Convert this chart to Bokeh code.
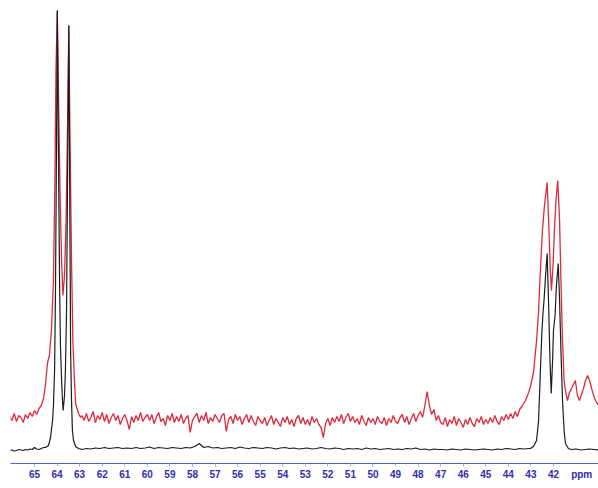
import numpy as np
from bokeh.plotting import figure
from bokeh.models import Range1d, FixedTicker
from bokeh.embed import file_html
from bokeh.resources import INLINE

# ---------------- data (chemical shift in ppm, intensity in a.u.) ----------------
# black spectrum: left baseline (66.1 -> 64.6, step 0.1)
black_left_ppm = [66.1, 66.0, 65.9, 65.8, 65.7, 65.6, 65.5, 65.4, 65.3, 65.2, 65.1, 65.0, 64.9, 64.8, 64.7, 64.6]
black_left_int = [0, 0.5, -0.5, 0, 1, 0.5, 0, 1, 0.5, 1.5, 1, 3, 1.5, 1, 2, 3]

# black doublet near 64 ppm
black_pk1_ppm = [64.51, 64.38, 64.29, 64.20, 64.16, 64.11, 64.07, 64.02, 63.99, 63.94, 63.89, 63.85,
                 63.80, 63.76, 63.73, 63.67, 63.63, 63.58, 63.54, 63.48, 63.43, 63.40, 63.36, 63.32,
                 63.27, 63.18, 63.05, 62.96]
black_pk1_int = [3, 5, 13, 30, 45, 80, 160, 320, 440, 300, 170, 105,
                 70, 50, 40, 55, 80, 140, 260, 425, 220, 100, 50, 20,
                 10, 4, 2, 1.5]

# black baseline 62.9 -> 43.1 (step 0.2)
black_base_int = [1, 2, 1.5, 2.5, 2, 3, 2, 2.5, 3, 2,
                  2.5, 2, 3, 2, 2.5, 3.5, 2, 3, 2.5, 2,
                  3, 2.5, 2, 3, 2.5, 4, 7, 3, 4, 2.5,
                  3, 2, 2.5, 3, 2, 3.5, 2.5, 2, 3, 2.5,
                  2, 3, 2.5, 1.5, 2.5, 3, 2, 2.5, 1.5, 2,
                  2.5, 1.5, 2, 3, 2, 1.5, 2.5, 2, 1, 2,
                  1.5, 2, 1, 2.5, 1.5, 2, 1, 1.5, 2, 1,
                  1.5, 1, 2, 1.5, 2.5, 1, 1.5, 0.5, 1.5, 1,
                  1, 0.5, 1.5, 1, 0.5, 1.5, 1, 0.5, 1, 1.5,
                  1, 0.5, 1.5, 1, 2, 1.5, 1, 2, 1.5, 2]
black_base_ppm = list(np.round(np.arange(62.9, 43.05, -0.2), 2))

# black multiplet near 42 ppm
black_pk2_ppm = [43.02, 42.886, 42.75, 42.66, 42.58, 42.51, 42.457, 42.42, 42.35, 42.28, 42.22,
                 42.155, 42.10, 42.04, 42.00, 41.93, 41.87, 41.79, 41.73, 41.67, 41.60, 41.53,
                 41.47, 41.34]
black_pk2_int = [2, 4, 10, 30, 80, 120, 140, 150, 175, 197, 150,
                 90, 57, 90, 120, 135, 165, 187, 150, 100, 50, 20,
                 7, 2]
black_right_ppm = [41.2, 41.0, 40.8, 40.6, 40.4, 40.2, 40.0]
black_right_int = [1, 1.5, 0.5, 1, 1.5, 1, 0.5]

# red spectrum: left baseline (66.1 -> 64.6)
red_left_ppm = black_left_ppm
red_left_int = [34, 30, 37, 29, 35, 33, 28, 36, 32, 38, 34, 40, 36, 42, 45, 52]

# red doublet near 64 ppm
red_pk1_ppm = [64.52, 64.42, 64.34, 64.25, 64.16, 64.09, 64.05, 63.99, 63.94, 63.87, 63.80,
               63.74, 63.67, 63.60, 63.54, 63.48, 63.43, 63.36, 63.30, 63.23, 63.18, 63.05, 62.96]
red_pk1_int = [65, 88, 95, 120, 170, 280, 380, 440, 360, 260, 190,
               155, 175, 230, 320, 425, 320, 190, 110, 70, 47, 37, 33]

# red baseline 62.9 -> 43.5 (step 0.1)
red_base_int = [35, 30, 37, 29, 33, 39, 28, 35, 31, 38,
                29, 36, 27, 33, 37, 30, 35, 26, 32, 36,
                30, 21, 34, 28, 35, 30, 38, 29, 33, 36,
                30, 36, 27, 33, 38, 29, 32, 25, 35, 30,
                37, 28, 34, 29, 36, 27, 32, 35, 18, 30,
                34, 37, 28, 35, 30, 38, 27, 33, 29, 36,
                32, 28, 35, 37, 19, 31, 34, 27, 36, 30,
                34, 26, 32, 36, 28, 35, 29, 25, 34, 30,
                27, 33, 25, 30, 35, 26, 32, 28, 24, 33,
                28, 34, 26, 31, 24, 32, 35, 27, 33, 26,
                31, 25, 34, 28, 32, 26, 23, 13, 27, 32,
                25, 33, 28, 34, 29, 36, 27, 33, 37, 29,
                34, 28, 32, 26, 35, 29, 25, 33, 28, 32,
                26, 34, 29, 27, 33, 25, 32, 28, 35, 29,
                27, 33, 36, 28, 34, 26, 32, 37, 29, 35,
                39, 33, 45, 59, 45, 36, 41, 30, 35, 28,
                26, 33, 24, 31, 27, 34, 25, 32, 28, 23,
                31, 26, 33, 27, 24, 32, 28, 34, 26, 31,
                27, 33, 28, 35, 29, 26, 34, 30, 36, 31,
                37, 32, 39, 34, 41]
red_base_ppm = list(np.round(np.arange(62.9, 43.45, -0.1), 2))

# red multiplet near 42 ppm and right tail
red_pk2_ppm = [43.40, 43.24, 43.10, 43.02, 42.886, 42.75, 42.66, 42.58, 42.49, 42.40, 42.28,
               42.20, 42.14, 42.09, 42.02, 41.96, 41.89, 41.81, 41.73, 41.67, 41.60, 41.53,
               41.47, 41.38, 41.29, 41.20, 41.12, 41.03, 40.94, 40.85, 40.76, 40.67, 40.58,
               40.49, 40.40, 40.31, 40.22, 40.14, 40.00]
red_pk2_int = [44, 50, 58, 64, 78, 110, 140, 180, 220, 245, 268,
               220, 180, 160, 185, 220, 250, 270, 230, 170, 110, 70,
               60, 50, 58, 62, 66, 70, 55, 50, 56, 62, 70,
               75, 70, 62, 55, 50, 45]

tick_values = list(range(42, 66))
tick_labels = {v: str(v) for v in tick_values}
unit_label = "ppm"
unit_pos = 40.75

black_ppm = black_left_ppm + black_pk1_ppm + black_base_ppm + black_pk2_ppm + black_right_ppm
black_int = black_left_int + black_pk1_int + black_base_int + black_pk2_int + black_right_int
red_ppm = red_left_ppm + red_pk1_ppm + red_base_ppm + red_pk2_ppm
red_int = red_left_int + red_pk1_int + red_base_int + red_pk2_int

# ---------------- figure ----------------
p = figure(width=598, height=488, output_backend="svg", toolbar_location=None,
           x_range=Range1d(66.064, 40.005), y_range=Range1d(-13, 450),
           min_border_left=10, min_border_right=0, min_border_top=0, min_border_bottom=25,
           x_axis_location="below", y_axis_location=None)
p.outline_line_color = None
p.background_fill_color = "white"
p.border_fill_color = "white"
p.grid.visible = False

p.line(red_ppm, red_int, line_color="#dc2a3c", line_width=1.3)
p.line(black_ppm, black_int, line_color="#1c1c1c", line_width=1.2)

ax = p.xaxis[0]
ax.ticker = FixedTicker(ticks=tick_values + [unit_pos], minor_ticks=tick_values)
overrides = dict(tick_labels)
overrides[unit_pos] = unit_label
ax.major_label_overrides = overrides
ax.axis_line_color = "#5a5ad6"
ax.axis_line_width = 1.2
ax.major_tick_line_color = None
ax.major_tick_out = 0
ax.major_tick_in = 0
ax.minor_tick_line_color = "#b0b0dc"
ax.minor_tick_out = 3
ax.minor_tick_in = 0
ax.major_label_standoff = 2
ax.major_label_text_color = "#2e2eb0"
ax.major_label_text_font = "Liberation Sans"
ax.major_label_text_font_style = "bold"
ax.major_label_text_font_size = "10px"

open("out.html", "w").write(file_html(p, INLINE))
